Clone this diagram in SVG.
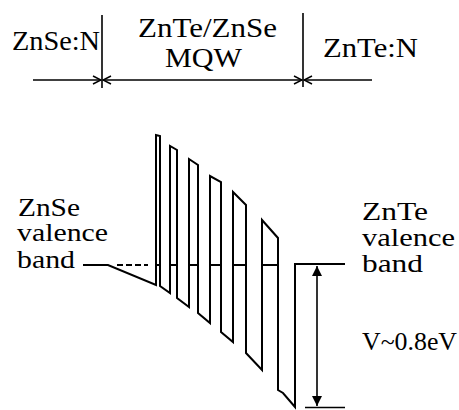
<svg xmlns="http://www.w3.org/2000/svg" width="459" height="410" viewBox="0 0 459 410">
<style>
  text { font-family: "Liberation Serif", "Times New Roman", serif; fill: #000; }
  .top { font-size: 27px; }
  .side { font-size: 25px; }
  .ln { fill: none; stroke: #000; stroke-width: 2; stroke-linejoin: miter; }
  .dim { fill: none; stroke: #000; stroke-width: 1.6; }
</style>
<defs>
  <marker id="open" markerUnits="userSpaceOnUse" markerWidth="10" markerHeight="10" viewBox="0 0 10 10" refX="9" refY="5" orient="auto-start-reverse">
    <path d="M1,1 L9,5 L1,9" fill="none" stroke="#000" stroke-width="1.5"/>
  </marker>
  <marker id="solid" markerUnits="userSpaceOnUse" markerWidth="10" markerHeight="12" viewBox="0 0 10 12" refX="10" refY="6" orient="auto-start-reverse">
    <path d="M0,1 L10,6 L0,11 z" fill="#000"/>
  </marker>
</defs>

<g id="connectors">
  <!-- region boundaries -->
  <line class="dim" x1="102" y1="15" x2="102" y2="88"/>
  <line class="dim" x1="303" y1="13" x2="303" y2="87"/>
  <!-- dimension arrows -->
  <line class="dim" x1="33" y1="80" x2="101" y2="80" marker-end="url(#open)"/>
  <line class="dim" x1="103" y1="80" x2="302" y2="80" marker-start="url(#open)" marker-end="url(#open)"/>
  <line class="dim" x1="372" y1="80" x2="304" y2="80" marker-end="url(#open)"/>
  <!-- V arrow -->
  <line class="dim" x1="317" y1="266" x2="317" y2="406" marker-start="url(#solid)" marker-end="url(#solid)"/>
  <line class="dim" x1="305" y1="407.5" x2="345" y2="407.5"/>
</g>

<g id="band">
  <polyline class="ln" points="83,265 108,265 156,285 156,135 160,136 160,286 170,293 170,146 177,150 177,298 189,307 189,159 198,165 198,313 210,323 210,176 221,182 221,332 233,342 233,192 246,205 246,353 262,370 262,220 278,238 278,390 283,393 295,407 295,264 345,264"/>
  <line class="ln" x1="117" y1="265" x2="148" y2="265" stroke-dasharray="6,3"/>
  <g id="levels" class="ln">
    <line x1="156" y1="265" x2="160" y2="265"/>
    <line x1="170" y1="265" x2="177" y2="265"/>
    <line x1="189" y1="265" x2="198" y2="265"/>
    <line x1="210" y1="265" x2="221" y2="265"/>
    <line x1="233" y1="265" x2="246" y2="265"/>
    <line x1="262" y1="265" x2="278" y2="265"/>
  </g>
</g>

<g id="label-znse-n"><text class="top" x="12" y="50" textLength="88" lengthAdjust="spacingAndGlyphs">ZnSe:N</text></g>
<g id="label-mqw">
  <text class="top" x="138" y="37" textLength="139" lengthAdjust="spacingAndGlyphs">ZnTe/ZnSe</text>
  <text class="top" x="165" y="67" textLength="77" lengthAdjust="spacingAndGlyphs">MQW</text>
</g>
<g id="label-znte-n"><text class="top" x="323" y="57" textLength="95" lengthAdjust="spacingAndGlyphs">ZnTe:N</text></g>

<g id="label-znse-vb">
  <text class="side" x="18" y="216" textLength="62" lengthAdjust="spacingAndGlyphs">ZnSe</text>
  <text class="side" x="17" y="241" textLength="91" lengthAdjust="spacingAndGlyphs">valence</text>
  <text class="side" x="17" y="268" textLength="58" lengthAdjust="spacingAndGlyphs">band</text>
</g>
<g id="label-znte-vb">
  <text class="side" x="362" y="220" textLength="66" lengthAdjust="spacingAndGlyphs">ZnTe</text>
  <text class="side" x="362" y="246" textLength="93" lengthAdjust="spacingAndGlyphs">valence</text>
  <text class="side" x="362" y="272" textLength="61" lengthAdjust="spacingAndGlyphs">band</text>
</g>
<g id="label-v"><text class="side" x="362" y="350" textLength="95" lengthAdjust="spacingAndGlyphs">V~0.8eV</text></g>
</svg>
